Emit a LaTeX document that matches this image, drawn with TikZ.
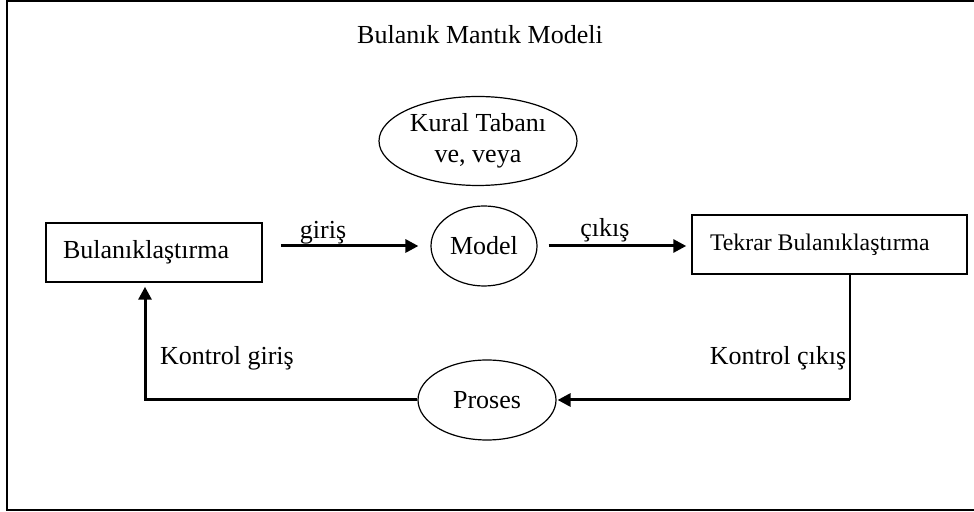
\documentclass[tikz,border=0pt]{standalone}
\usepackage{fontspec}
\setmainfont{Liberation Serif}
\usetikzlibrary{arrows.meta, shapes.geometric}

\begin{document}
\begin{tikzpicture}[
  x=0.5pt, y=-0.5pt,
  txt/.style={font=\fontsize{13}{15.5}\selectfont, inner sep=0pt},
  box/.style={draw, line width=0.75pt, minimum height=29.5pt, align=flush left, inner ysep=0pt, font=\fontsize{13}{15.5}\selectfont},
  oval/.style={draw, ellipse, line width=0.6pt, inner sep=0pt, align=center, font=\fontsize{13}{15.5}\selectfont},
  arrow/.style={-{Triangle[length=6.5pt,width=6.5pt]}, line width=1.5pt},
  frame/.style={line width=1pt}
]
\useasboundingbox (0,0) rectangle (974,512);
\draw[frame] (990,1) -- (7,1) -- (7,510) -- (990,510);

\node[txt] (title) at (480,35) {Bulanık Mantık Modeli};
\node[oval, minimum width=99pt, minimum height=44.5pt] (kural) at (478,141) {Kural Tabanı\\ve, veya};
\node[oval, minimum width=53pt, minimum height=40pt] (model) at (484,246) {Model};
\node[oval, minimum width=69pt, minimum height=40pt] (proses) at (487,400) {Proses};
\node[box, text width=91pt, inner xsep=8.5pt] (bul) at (154,252.5) {Bulanıklaştırma};
\node[box, text width=119.5pt, inner xsep=9pt, font=\fontsize{11.9}{14}\selectfont] (tekrar) at (829.5,244.5) {Tekrar Bulanıklaştırma};

\coordinate (cout) at (850,400);
\coordinate (cin) at (145,400);

\draw[arrow, shorten <=9pt, shorten >=6pt] (bul.east |- model.west) -- (model.west);
\draw[arrow, shorten <=5.5pt, shorten >=2.5pt] (model.east) -- (model.east -| tekrar.west);
\draw[line width=1pt] (tekrar.south -| cout) -- (cout);
\draw[arrow, shorten >=0.5pt] (cout) -- (proses.east);
\draw[arrow, shorten >=2pt] (proses.west) -- (cin) -- (bul.south -| cin);

\node[txt] (giris) at (323,233) {giriş};
\node[txt] (cikis) at (605,230) {çıkış};
\node[txt] (kgiris) at (227,358) {Kontrol giriş};
\node[txt] (kcikis) at (778,358) {Kontrol çıkış};
\end{tikzpicture}
\end{document}
